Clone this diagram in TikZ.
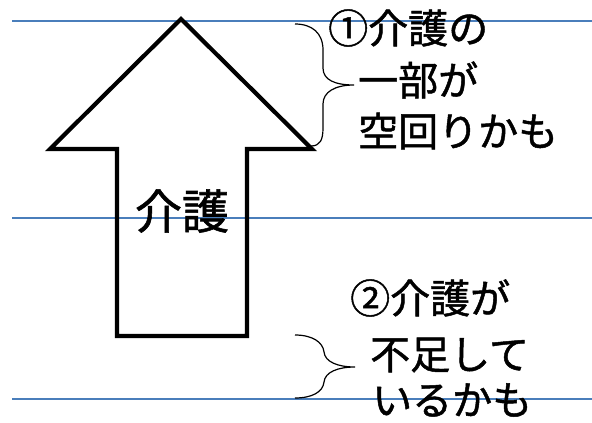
\documentclass[tikz,border=0pt]{standalone}
\usepackage{fontspec}
\setmainfont{Noto Sans CJK JP}[FakeBold=1.2]
\usetikzlibrary{positioning}
\definecolor{rule}{HTML}{4A7EBB}
\tikzset{
  guide/.style={draw=rule,line width=2pt},
  bigarrow/.style={draw=black,line width=4.2pt,line join=miter},
  curly/.style={draw=black,line width=1.2pt},
  note/.style={anchor=west,inner sep=0pt,font=\fontsize{40}{48}\selectfont},
  tag/.style={inner sep=0pt,font=\fontsize{47}{56}\selectfont},
}

\begin{document}
\begin{tikzpicture}[x=1pt,y=-1pt]
  \useasboundingbox (0,0) rectangle (592,423);
  % guide lines
  \foreach \y in {21,218,399} \draw[guide] (12,\y) -- (592,\y);
  % the big arrow
  \draw[bigarrow] (181,19) -- (312,149) -- (247,149) -- (247,336) -- (117,336)
    -- (117,149) -- (50,149) -- cycle;
  \node[tag] (care) at (182,211) {介護};
  % upper brace and note
  \draw[curly] (295,24) .. controls (312,24) and (323,33) .. (323,50) -- (323,68)
    .. controls (323,80) and (335,85) .. (354,85)
    .. controls (335,85) and (323,92) .. (323,104) -- (323,128)
    .. controls (323,140) and (320,146) .. (311,146);
  \node[note] (idle1) at (328,28) {①介護の};
  \node[note] (idle2) at (358,80) {一部が};
  \node[note] (idle3) at (358,131) {空回りかも};
  % lower brace and note
  \draw[curly] (295,335) .. controls (312,335) and (323,342) .. (324,352)
    .. controls (325,362) and (338,367) .. (355,367)
    .. controls (338,367) and (325,372) .. (324,382)
    .. controls (323,392) and (312,398) .. (295,398);
  \node[note] (lack1) at (350,298) {②介護が};
  \node[note] (lack2) at (370,355) {不足して};
  \node[note] (lack3) at (372,400) {いるかも};
\end{tikzpicture}
\end{document}
